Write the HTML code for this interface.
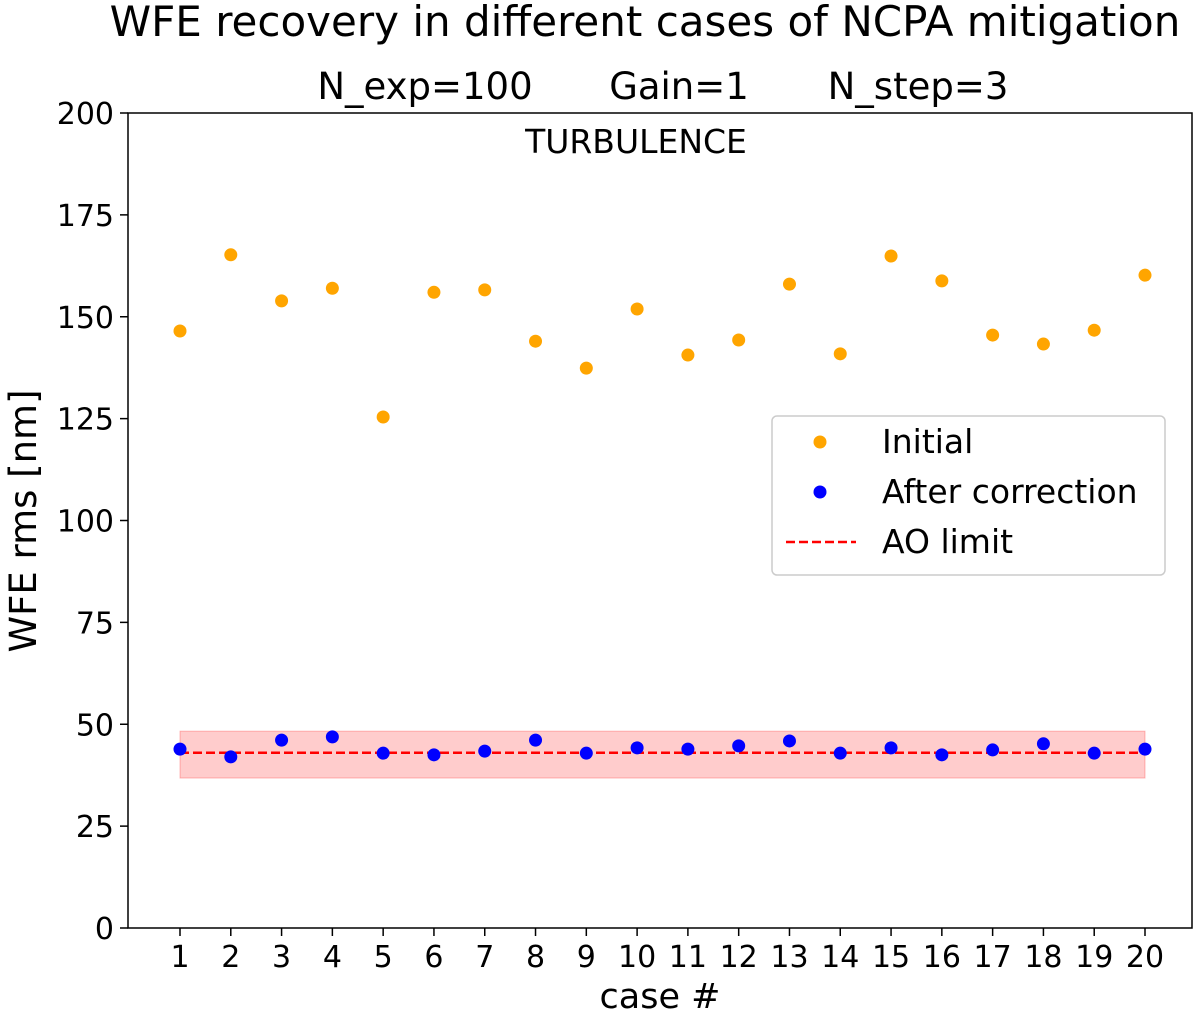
<!DOCTYPE html>
<html><head><meta charset="utf-8"><style>
body{margin:0;background:#fff}
svg text{font-family:"DejaVu Sans","Liberation Sans",sans-serif;fill:#000}
</style></head><body>
<svg width="1200" height="1016">
<g id="g"></g>
</svg>
<script>
const cases=[1,2,3,4,5,6,7,8,9,10,11,12,13,14,15,16,17,18,19,20];
const initial=[146.5,165.2,153.9,157,125.4,156,156.6,144,137.4,151.9,140.6,144.3,158,140.9,164.9,158.8,145.5,143.3,146.7,160.2];
const after=[43.9,42,46.1,46.9,42.9,42.5,43.4,46.1,42.9,44.2,43.9,44.7,45.9,42.9,44.2,42.5,43.7,45.2,42.9,43.9];
const aoLimit=[43];
const aoBand=[36.8,48.3];
const yTicks=[0,25,50,75,100,125,150,175,200];
const L=128,R=1192,T=113,B=928;
const xs=c=>180+(c-1)*(1145-180)/19;
const ys=v=>B-(v/200)*(B-T);
const ns="http://www.w3.org/2000/svg";
const g=document.getElementById('g');
function mk(t,a,p){const e=document.createElementNS(ns,t);for(const k in a)e.setAttribute(k,a[k]);(p||g).appendChild(e);return e;}
function tx(s,x,y,size,anchor,name,extra){const e=mk('text',Object.assign({x:x,y:y,'font-size':size,'text-anchor':anchor||'middle'},extra||{}));e.textContent=s;

return e;}
let band=mk('rect',{x:xs(1),y:ys(aoBand[1]),width:xs(20)-xs(1),height:ys(aoBand[0])-ys(aoBand[1]),fill:'#ff0000','fill-opacity':0.2,stroke:'#ff0000','stroke-opacity':0.25});


let ln=mk('line',{x1:xs(1),x2:xs(20),y1:ys(aoLimit[0]),y2:ys(aoLimit[0]),stroke:'#ff0000','stroke-width':2.5,'stroke-dasharray':'9,4'});


cases.forEach((c,i)=>{
 let p=mk('circle',{cx:xs(c),cy:ys(initial[i]),r:6.5,fill:'#ffa500'});
 
 
 let q=mk('circle',{cx:xs(c),cy:ys(after[i]),r:6.5,fill:'#0000ff'});
 
 
 let t=mk('line',{x1:xs(c),x2:xs(c),y1:B,y2:B+8,stroke:'#000','stroke-width':1.5});
 
 
 tx(String(c),xs(c),B+39,30,'middle','x-tick-label');
});
yTicks.forEach(v=>{
 let t=mk('line',{x1:L-8,x2:L,y1:ys(v),y2:ys(v),stroke:'#000','stroke-width':1.5});
 
 
 tx(String(v),L-14,ys(v)+11,30,'end','y-tick-label');
});
let ax=mk('rect',{x:L,y:T,width:R-L,height:B-T,fill:'none',stroke:'#000','stroke-width':1.5});


tx('WFE recovery in different cases of NCPA mitigation',645,36,42,'middle','chart-title');
tx('N_exp=100',425,99,37,'middle','subtitle-nexp');
tx('Gain=1',679,99,37,'middle','subtitle-gain');
tx('N_step=3',918,99,37,'middle','subtitle-nstep');
tx('TURBULENCE',636,153,33,'middle','turbulence-label');
tx('case #',660,1008,35,'middle','x-axis-title');
tx('WFE rms [nm]',36,521,37,'middle','y-axis-title',{transform:'rotate(-90 36 521)'});
let lg=mk('rect',{x:772,y:416,width:393,height:159,rx:5,fill:'#fff',stroke:'#ccc','stroke-width':1.5});


let a=mk('circle',{cx:820,cy:442,r:6.5,fill:'#ffa500'});


tx('Initial',882,453,33,'start','legend-initial');
let b=mk('circle',{cx:820,cy:492,r:6.5,fill:'#0000ff'});


tx('After correction',882,503,33,'start','legend-after');
let d=mk('line',{x1:786,x2:856,y1:542,y2:542,stroke:'#ff0000','stroke-width':2.5,'stroke-dasharray':'9,4'});


tx('AO limit',882,553,33,'start','legend-ao-limit');
</script>
</body></html>
